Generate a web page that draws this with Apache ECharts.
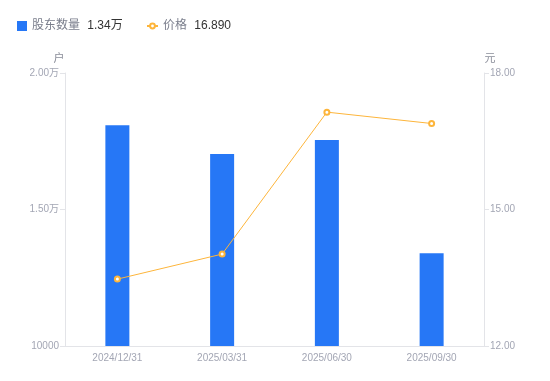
<!DOCTYPE html>
<html><head><meta charset="utf-8">
<script src="https://cdn.jsdelivr.net/npm/echarts@6/dist/echarts.min.js"></script>
<style>html,body{margin:0;padding:0;background:#fff}#c{width:550px;height:381px}</style>
</head><body><div id="c"></div>
<script>
var categories = ['2024/12/31','2025/03/31','2025/06/30','2025/09/30'];
var holders = [18090, 17030, 17550, 13400];
var prices = [13.47, 14.02, 17.14, 16.89];
var leftTicks = [10000, 15000, 20000];
var rightTicks = [12, 15, 18];

var chart = echarts.init(document.getElementById('c'), null, {renderer:'canvas'});
var font = '"Liberation Sans","Noto Sans CJK SC",sans-serif';
var labelColor = '#a3a6b4';
var legendText = {fontFamily:font, fontSize:12, color:'#7a7e8c',
      rich:{v:{color:'#333', fontSize:12, fontFamily:font, padding:[0,0,0,4]}}};
var fmt = function(n){ return n==='股东数量' ? n+' {v|1.34万}' : n+' {v|16.890}'; };
chart.setOption({
  animation:false,
  textStyle:{fontFamily:font},
  legend:[{
    left:12, top:15, itemWidth:10, itemHeight:10,
    textStyle:legendText, formatter:fmt,
    data:[{name:'股东数量', icon:'rect'}]
  },{
    left:141, top:15, itemWidth:11, itemHeight:6, itemGap:5,
    textStyle:legendText, formatter:fmt,
    data:[{name:'价格'}]
  }],
  grid:{left:65, right:66, top:73, bottom:35},
  xAxis:{type:'category', data:categories,
    axisLine:{lineStyle:{color:'#e3e4e8'}}, axisTick:{show:false},
    axisLabel:{color:labelColor, fontSize:10, margin:7}},
  yAxis:[
    {type:'value', min:leftTicks[0], max:leftTicks[2], interval:5000, name:'户',
      nameTextStyle:{color:'#8a8d99', fontSize:11, padding:[0,0,0,-12]}, nameGap:9,
      axisLine:{show:true, lineStyle:{color:'#e3e4e8'}},
      axisTick:{show:true, length:5, lineStyle:{color:'#e3e4e8'}},
      splitLine:{show:false},
      axisLabel:{color:labelColor, fontSize:10, margin:6,
        formatter:function(v){ return v===10000 ? '10000' : (v/10000).toFixed(2)+'万'; }}},
    {type:'value', min:rightTicks[0], max:rightTicks[2], interval:3, name:'元', position:'right',
      nameTextStyle:{color:'#8a8d99', fontSize:11, padding:[0,0,0,12]}, nameGap:9,
      axisLine:{show:true, lineStyle:{color:'#e3e4e8'}},
      axisTick:{show:true, length:5, lineStyle:{color:'#e3e4e8'}},
      splitLine:{show:false},
      axisLabel:{color:labelColor, fontSize:10, margin:6,
        formatter:function(v){ return v.toFixed(2); }}}
  ],
  series:[
    {name:'股东数量', type:'bar', data:holders, barWidth:24, yAxisIndex:0,
      itemStyle:{color:'#2677f6'}},
    {name:'价格', type:'line', data:prices, yAxisIndex:1, symbol:'emptyCircle', symbolSize:5,
      lineStyle:{color:'#fdb53b', width:1}, itemStyle:{color:'#fdb53b', borderWidth:1.5}}
  ]
});
</script></body></html>
